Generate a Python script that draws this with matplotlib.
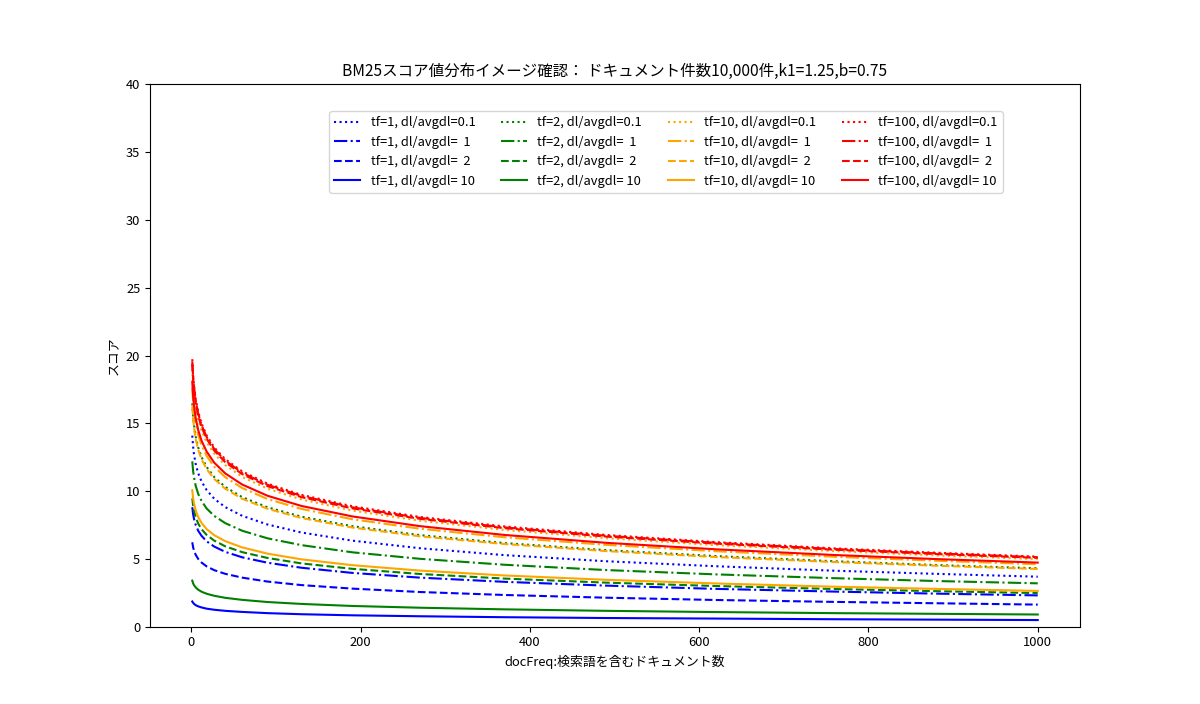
import matplotlib
matplotlib.use("Agg")
import matplotlib.pyplot as plt

# font with Japanese glyphs (a bit smaller: Noto runs wider than the original font)
plt.rcParams['font.family'] = ['Noto Sans CJK JP', 'DejaVu Sans']
plt.rcParams['font.size'] = 9.3

# docFreq sample points
doc_freq = [1, 2, 3, 5, 8, 12, 18, 27, 40, 60, 90, 130, 190, 270, 370, 490, 620, 760, 880, 1000]

# tf=1
tf1_dl01 = [14.09, 13.27, 12.73, 12.01, 11.31, 10.70, 10.07, 9.43, 8.81, 8.17, 7.53, 6.94, 6.34, 5.78, 5.27, 4.82, 4.45, 4.12, 3.89, 3.68]
tf1_dl1 = [8.81, 8.29, 7.96, 7.51, 7.07, 6.69, 6.29, 5.90, 5.51, 5.11, 4.71, 4.34, 3.96, 3.61, 3.30, 3.02, 2.78, 2.58, 2.43, 2.30]
tf1_dl2 = [6.22, 5.85, 5.62, 5.30, 4.99, 4.72, 4.44, 4.16, 3.89, 3.61, 3.32, 3.06, 2.80, 2.55, 2.33, 2.13, 1.96, 1.82, 1.72, 1.62]
tf1_dl10 = [1.85, 1.75, 1.68, 1.58, 1.49, 1.41, 1.32, 1.24, 1.16, 1.08, 0.99, 0.91, 0.83, 0.76, 0.69, 0.63, 0.59, 0.54, 0.51, 0.48]

# tf=2
tf2_dl01 = [16.47, 15.51, 14.88, 14.04, 13.22, 12.50, 11.77, 11.03, 10.30, 9.55, 8.80, 8.11, 7.41, 6.75, 6.16, 5.64, 5.20, 4.82, 4.54, 4.30]
tf2_dl1 = [12.19, 11.48, 11.02, 10.39, 9.79, 9.26, 8.71, 8.16, 7.63, 7.07, 6.51, 6.01, 5.48, 5.00, 4.56, 4.17, 3.85, 3.57, 3.36, 3.19]
tf2_dl2 = [9.46, 8.91, 8.55, 8.07, 7.60, 7.18, 6.76, 6.34, 5.92, 5.49, 5.06, 4.66, 4.26, 3.88, 3.54, 3.24, 2.99, 2.77, 2.61, 2.47]
tf2_dl10 = [3.39, 3.19, 3.06, 2.89, 2.72, 2.57, 2.42, 2.27, 2.12, 1.97, 1.81, 1.67, 1.52, 1.39, 1.27, 1.16, 1.07, 0.99, 0.94, 0.89]

# tf=10
tf10_dl01 = [19.04, 17.93, 17.21, 16.23, 15.29, 14.45, 13.61, 12.75, 11.91, 11.04, 10.17, 9.38, 8.56, 7.81, 7.13, 6.52, 6.01, 5.57, 5.25, 4.98]
tf10_dl1 = [17.61, 16.59, 15.92, 15.01, 14.14, 13.37, 12.59, 11.79, 11.02, 10.22, 9.41, 8.68, 7.92, 7.22, 6.59, 6.03, 5.56, 5.15, 4.86, 4.60]
tf10_dl2 = [16.26, 15.31, 14.69, 13.86, 13.05, 12.34, 11.62, 10.89, 10.17, 9.43, 8.69, 8.01, 7.31, 6.66, 6.09, 5.57, 5.13, 4.76, 4.49, 4.25]
tf10_dl10 = [10.06, 9.48, 9.10, 8.58, 8.08, 7.64, 7.19, 6.74, 6.30, 5.84, 5.38, 4.96, 4.53, 4.13, 3.77, 3.45, 3.18, 2.94, 2.78, 2.63]

# tf=100
tf100_dl01 = [19.73, 18.59, 17.83, 16.82, 15.84, 14.98, 14.10, 13.21, 12.35, 11.45, 10.54, 9.72, 8.88, 8.09, 7.39, 6.76, 6.23, 5.77, 5.45, 5.16]
tf100_dl1 = [19.57, 18.43, 17.68, 16.68, 15.71, 14.86, 13.98, 13.10, 12.24, 11.35, 10.46, 9.64, 8.80, 8.02, 7.32, 6.70, 6.18, 5.72, 5.40, 5.12]
tf100_dl2 = [19.39, 18.26, 17.52, 16.53, 15.57, 14.72, 13.86, 12.98, 12.13, 11.25, 10.36, 9.55, 8.72, 7.95, 7.26, 6.64, 6.12, 5.67, 5.35, 5.07]
tf100_dl10 = [18.06, 17.01, 16.32, 15.40, 14.50, 13.71, 12.91, 12.09, 11.30, 10.48, 9.65, 8.90, 8.13, 7.41, 6.76, 6.18, 5.70, 5.28, 4.98, 4.72]

tf_values = [1, 2, 10, 100]
dl_labels = ['0.1', '1', '2', '10']
colors = ['blue', 'green', 'orange', 'red']
styles = [':', '-.', '--', '-']
series = [
    [tf1_dl01, tf1_dl1, tf1_dl2, tf1_dl10],
    [tf2_dl01, tf2_dl1, tf2_dl2, tf2_dl10],
    [tf10_dl01, tf10_dl1, tf10_dl2, tf10_dl10],
    [tf100_dl01, tf100_dl1, tf100_dl2, tf100_dl10],
]

fig = plt.figure(figsize=(12, 7.04), dpi=100)
ax = fig.add_subplot(111)

for tf, color, group in zip(tf_values, colors, series):
    for dl, style, scores in zip(dl_labels, styles, group):
        ax.plot(doc_freq, scores, linestyle=style, color=color,
                label='tf={}, dl/avgdl={:>3}'.format(tf, dl))

ax.set_ylim(0, 40)
ax.set_title('BM25スコア値分布イメージ確認： ドキュメント件数10,000件,k1=1.25,b=0.75', fontsize=11.2)
ax.set_xlabel('docFreq:検索語を含むドキュメント数')
ax.set_ylabel('スコア')
ax.legend(ncol=4, loc='upper right', bbox_to_anchor=(0.924, 0.963))

fig.savefig('out.png', dpi=100)
